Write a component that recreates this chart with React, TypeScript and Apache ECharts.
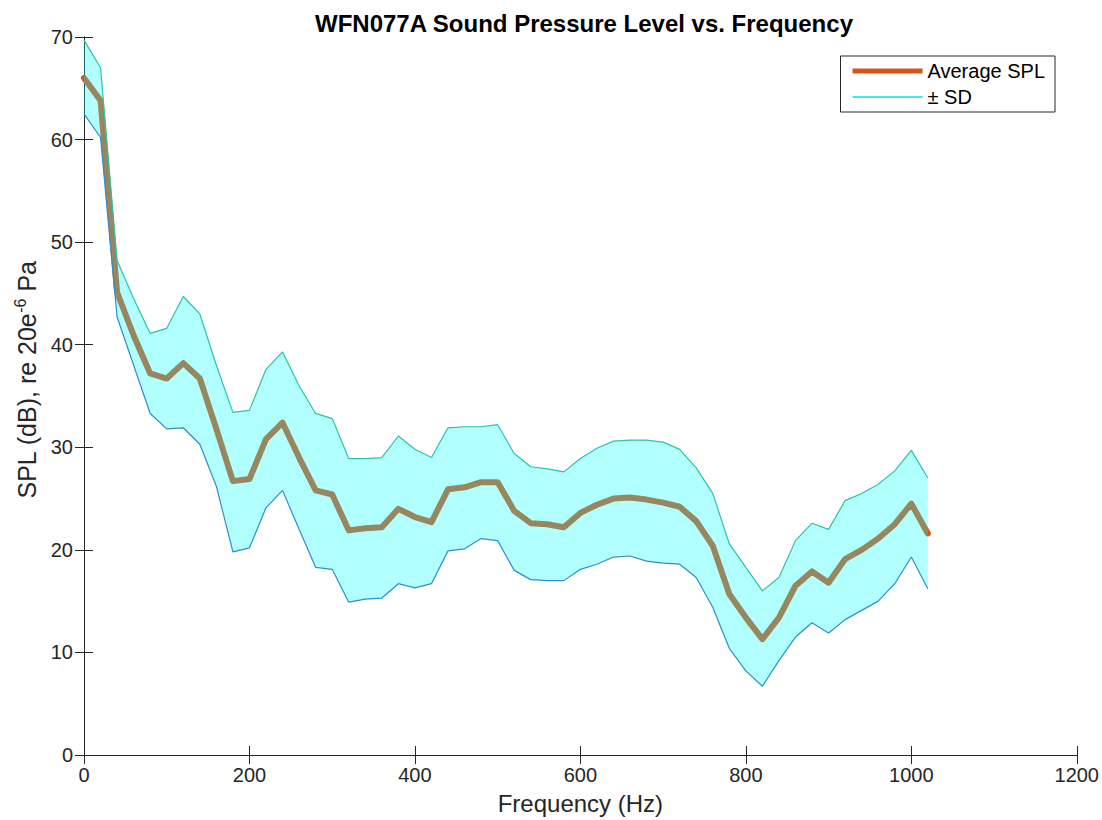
import React, { useEffect, useRef } from "react";
import * as echarts from "echarts";

// Frequency bins (Hz)
const freqs = [
  0, 20, 40, 60, 80, 100, 120, 140, 160, 180, 200, 220, 240, 260, 280, 300, 320, 340, 360, 380,
  400, 420, 440, 460, 480, 500, 520, 540, 560, 580, 600, 620, 640, 660, 680, 700, 720, 740, 760,
  780, 800, 820, 840, 860, 880, 900, 920, 940, 960, 980, 1000, 1020,
];

// Average sound pressure level (dB re 20 µPa)
const avgSpl = [
  66.0, 63.8, 45.1, 40.9, 37.2, 36.7, 38.2, 36.7, 31.8, 26.7, 26.9, 30.8, 32.4, 29.0, 25.8, 25.4,
  21.9, 22.1, 22.2, 24.0, 23.2, 22.7, 25.9, 26.1, 26.6, 26.6, 23.8, 22.6, 22.5, 22.2, 23.6, 24.4,
  25.0, 25.1, 24.9, 24.6, 24.2, 22.8, 20.4, 15.7, 13.4, 11.3, 13.4, 16.5, 17.9, 16.8, 19.1, 20.0,
  21.1, 22.5, 24.5, 21.6,
];

// Mean + one standard deviation
const upperSd = [
  69.7, 67.0, 48.2, 44.5, 41.1, 41.6, 44.7, 43.0, 38.0, 33.4, 33.6, 37.6, 39.3, 36.0, 33.3, 32.8,
  28.9, 28.9, 29.0, 31.1, 29.8, 29.0, 31.9, 32.0, 32.0, 32.2, 29.4, 28.1, 27.9, 27.6, 28.9, 29.9,
  30.6, 30.7, 30.7, 30.5, 29.8, 28.0, 25.5, 20.6, 18.3, 16.0, 17.3, 20.9, 22.6, 22.0, 24.8, 25.5,
  26.4, 27.7, 29.7, 27.0,
];

// Mean - one standard deviation
const lowerSd = [
  62.5, 60.2, 42.7, 38.0, 33.3, 31.8, 31.9, 30.3, 26.2, 19.8, 20.2, 24.1, 25.8, 22.0, 18.3, 18.1,
  14.9, 15.2, 15.3, 16.7, 16.3, 16.7, 19.9, 20.1, 21.1, 20.9, 18.0, 17.1, 17.0, 17.0, 18.1, 18.6,
  19.3, 19.4, 18.9, 18.7, 18.6, 17.3, 14.4, 10.4, 8.2, 6.7, 9.2, 11.5, 12.9, 11.9, 13.2, 14.1,
  15.0, 16.7, 19.3, 16.2,
];

const FONT = "'Liberation Sans', Helvetica, Arial, sans-serif";
const AXIS_COLOR = "#262626";
const MEAN_COLOR = "#d95319";
const SD_LEGEND_COLOR = "#3fecf2";

export default function App() {
  const ref = useRef<HTMLDivElement>(null);

  useEffect(() => {
    if (!ref.current) return;
    const chart = echarts.init(ref.current, undefined, { renderer: "svg" });

    const meanData = freqs.map((f, i) => [f, avgSpl[i]]);
    const lowerData = freqs.map((f, i) => [f, lowerSd[i]]);
    const upperData = freqs.map((f, i) => [f, upperSd[i]]);
    const bandData = freqs.map((f, i) => [f, lowerSd[i], upperSd[i]]);

    const tickLabel = { fontSize: 20, color: AXIS_COLOR, fontFamily: FONT };
    const axisLine = { show: true, lineStyle: { color: AXIS_COLOR, width: 1 } };
    const axisTick = { show: true, inside: true, length: 9, lineStyle: { color: AXIS_COLOR } };

    // Shaded ±SD band: one polygon running along the upper edge and back along the lower edge
    const renderBand = (params: any, api: any) => {
      if (params.dataIndex !== 0) return null;
      const n = params.dataInsideLength;
      const top: number[][] = [];
      const bottom: number[][] = [];
      for (let i = 0; i < n; i++) {
        const x = api.value(0, i);
        top.push(api.coord([x, api.value(2, i)]));
        bottom.push(api.coord([x, api.value(1, i)]));
      }
      return {
        type: "polygon",
        shape: { points: top.concat(bottom.reverse()) },
        style: { fill: "rgba(0,255,255,0.3)", stroke: "none" },
      };
    };

    chart.setOption({
      animation: false,
      backgroundColor: "#ffffff",
      title: {
        text: "WFN077A Sound Pressure Level vs. Frequency",
        left: 579,
        textAlign: "center",
        top: 6,
        textStyle: { fontSize: 24, fontWeight: "bold", color: "#000", fontFamily: FONT },
      },
      legend: {
        right: 47,
        top: 56,
        orient: "vertical",
        itemWidth: 70,
        itemHeight: 14,
        itemGap: 6,
        padding: [5, 10, 5, 12],
        borderColor: AXIS_COLOR,
        borderWidth: 1,
        backgroundColor: "#ffffff",
        textStyle: { fontSize: 20, color: "#000", fontFamily: FONT },
        data: [
          { name: "Average SPL", icon: "path://M0 0H70V5H0Z", itemStyle: { color: MEAN_COLOR } },
          { name: "± SD", icon: "path://M0 0H70V2H0Z", itemStyle: { color: SD_LEGEND_COLOR } },
        ],
      },
      grid: { left: 84, right: 24, top: 37, bottom: 65 },
      xAxis: [
        {
          type: "value",
          min: 0,
          max: 1200,
          interval: 200,
          position: "bottom",
          axisLine,
          axisTick,
          splitLine: { show: false },
          axisLabel: { ...tickLabel, margin: 10, formatter: (v: number) => String(v) },
          name: "Frequency (Hz)",
          nameLocation: "middle",
          nameGap: 36,
          nameTextStyle: { fontSize: 24, color: AXIS_COLOR, fontFamily: FONT },
        },
        {
          type: "value",
          min: 0,
          max: 1200,
          interval: 200,
          position: "top",
          axisLine,
          axisTick,
          splitLine: { show: false },
          axisLabel: { show: false },
        },
      ],
      yAxis: [
        {
          type: "value",
          min: 0,
          max: 70,
          interval: 10,
          position: "left",
          axisLine,
          axisTick,
          splitLine: { show: false },
          axisLabel: { ...tickLabel, margin: 11 },
          name: "SPL (dB), re 20e{sup|-6} Pa",
          nameLocation: "middle",
          nameGap: 36,
          nameTextStyle: {
            fontSize: 25,
            color: AXIS_COLOR,
            fontFamily: FONT,
            padding: [0, 0, 0, 32],
            rich: {
              sup: {
                fontSize: 16,
                verticalAlign: "top",
                color: AXIS_COLOR,
                fontFamily: FONT,
                padding: [0, 0, 13, 0],
              },
            },
          },
        },
        {
          type: "value",
          min: 0,
          max: 70,
          interval: 10,
          position: "right",
          axisLine,
          axisTick,
          splitLine: { show: false },
          axisLabel: { show: false },
        },
      ],
      series: [
        {
          name: "Average SPL",
          type: "line",
          data: meanData,
          symbol: "none",
          z: 2,
          lineStyle: { color: MEAN_COLOR, width: 6, cap: "round", join: "round" },
          itemStyle: { color: MEAN_COLOR },
        },
        {
          name: "SD band",
          type: "custom",
          data: bandData,
          encode: { x: 0, y: [1, 2] },
          renderItem: renderBand,
          z: 3,
          silent: true,
        },
        {
          name: "lower",
          type: "line",
          data: lowerData,
          symbol: "none",
          z: 4,
          lineStyle: { color: "#2b8fcc", width: 1.2 },
          itemStyle: { color: "#2b8fcc" },
        },
        {
          name: "upper",
          type: "line",
          data: upperData,
          symbol: "none",
          z: 4,
          lineStyle: { color: "#2cc4a2", width: 1.2 },
          itemStyle: { color: "#2cc4a2" },
        },
        {
          name: "± SD",
          type: "line",
          data: [],
          symbol: "none",
          lineStyle: { color: SD_LEGEND_COLOR, width: 2 },
          itemStyle: { color: SD_LEGEND_COLOR },
        },
      ],
    });

    return () => chart.dispose();
  }, []);

  return (
    <div
      ref={ref}
      style={{ position: "fixed", left: 0, top: 0, width: 1102, height: 820, background: "#fff" }}
    />
  );
}
